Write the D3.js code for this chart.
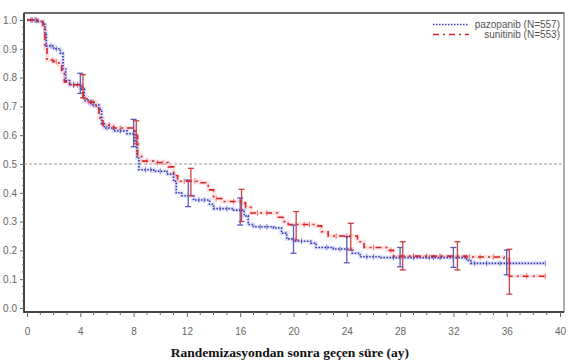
<!DOCTYPE html>
<html><head><meta charset="utf-8">
<script src="https://cdn.jsdelivr.net/npm/d3@7"></script>
<style>body{margin:0;background:#fff}svg{display:block}</style>
</head><body>
<svg id="c" width="571" height="361"></svg>
<script>
// ---- data ----
const xTicks = [0,4,8,12,16,20,24,28,32,36,40];
const yTicks = [0,0.1,0.2,0.3,0.4,0.5,0.6,0.7,0.8,0.9,1.0];
const seriesNames = ["pazopanib (N=557)", "sunitinib (N=553)"];
// step curves: [time (months), survival after that time]
const pazopanib = [[0,1.0],[0.8,0.995],[1.2,0.985],[1.35,0.95],[1.45,0.91],[2.0,0.90],[2.5,0.885],[2.7,0.83],[2.9,0.79],[3.2,0.775],[4.1,0.76],[4.3,0.72],[4.8,0.705],[5.4,0.69],[5.6,0.64],[5.8,0.625],[6.5,0.615],[7.5,0.605],[8.1,0.58],[8.25,0.52],[8.4,0.48],[9.5,0.475],[10.5,0.465],[11.0,0.44],[11.2,0.40],[11.6,0.39],[12.5,0.375],[13.7,0.36],[14.0,0.345],[15.5,0.34],[16.3,0.32],[16.6,0.29],[17.0,0.282],[18.5,0.278],[19.1,0.26],[19.5,0.24],[20.0,0.232],[21.3,0.225],[21.7,0.21],[23.0,0.205],[24.4,0.19],[25.0,0.178],[26.5,0.175],[33.0,0.165],[33.3,0.155],[38.9,0.155]];
const sunitinib = [[0,1.0],[0.8,0.995],[1.2,0.98],[1.35,0.9],[1.5,0.86],[2.0,0.855],[2.4,0.845],[2.6,0.82],[2.8,0.785],[3.2,0.775],[4.0,0.765],[4.2,0.73],[4.5,0.715],[5.2,0.70],[5.4,0.66],[5.7,0.635],[6.5,0.625],[8.1,0.60],[8.3,0.53],[8.6,0.51],[9.5,0.505],[10.6,0.49],[11.0,0.46],[11.3,0.44],[13.0,0.435],[13.6,0.41],[14.0,0.38],[14.6,0.37],[16.1,0.365],[16.4,0.35],[16.8,0.33],[18.8,0.315],[19.2,0.30],[19.6,0.29],[21.6,0.285],[22.1,0.265],[22.6,0.25],[24.8,0.23],[25.3,0.21],[27.0,0.20],[27.5,0.18],[33.0,0.177],[35.8,0.172],[36.2,0.11],[38.9,0.11]];
// censor times
const pazopanibCensor = [0.3,0.6,1.8,2.2,3.5,3.8,5.0,6.0,7.0,8.9,9.3,10.0,12.9,13.3,14.5,15.0,17.5,18.0,20.6,22.5,23.5,25.5,26.0,27.5,29.0,30.2,30.5,31.0,33.6,34.5,35.5,38.9];
const sunitinibCensor = [0.4,0.7,1.9,2.2,3.5,4.6,5.0,6.2,7.0,9.0,9.8,10.2,11.8,12.6,14.2,15.5,17.3,18.0,20.8,21.2,23.2,24.0,26.0,27.3,29.0,30.0,31.0,33.2,34.0,35.0,37.5,38.9];
// 95% CI bars: [time, lower, upper]
const pazopanibCI = [[4.0,0.745,0.815],[8.0,0.56,0.655],[12.1,0.352,0.444],[16.0,0.288,0.382],[20.0,0.19,0.288],[24.0,0.157,0.248],[28.0,0.143,0.21],[32.0,0.141,0.21],[36.0,0.115,0.201]];
const sunitinibCI = [[4.2,0.73,0.81],[8.2,0.57,0.65],[12.3,0.39,0.485],[16.1,0.30,0.412],[20.2,0.236,0.335],[24.3,0.201,0.294],[28.2,0.132,0.23],[32.3,0.132,0.23],[36.2,0.048,0.204]];

// ---- chart ----
const svg = d3.select("#c");
const x = d3.scaleLinear().domain([0,40]).range([27,560]);
const y = d3.scaleLinear().domain([0,1]).range([308,20]);
const L=24,R=564,T=13,B=312;
const gray="#666";

// frame
svg.append("rect").attr("x",L).attr("y",T).attr("width",R-L).attr("height",B-T)
  .attr("fill","none").attr("stroke","#777").attr("stroke-width",1.2);
svg.append("line").attr("x1",L).attr("x2",L).attr("y1",T).attr("y2",B+1).attr("stroke","#444").attr("stroke-width",2);
svg.append("line").attr("x1",L-1).attr("x2",R).attr("y1",B).attr("y2",B).attr("stroke","#444").attr("stroke-width",2);
svg.append("line").attr("x1",L).attr("x2",R).attr("y1",T).attr("y2",T).attr("stroke","#555").attr("stroke-width",1.5);

// axes
const xAxis = d3.axisBottom(x).tickValues(xTicks).tickSize(5).tickPadding(11).tickFormat(d3.format("d"));
const gx = svg.append("g").attr("transform",`translate(0,${B})`).call(xAxis);
gx.select(".domain").remove();
gx.selectAll("line").attr("stroke",gray);
gx.selectAll("text").attr("fill",gray).style("font-family","Liberation Sans, Arial, sans-serif").style("font-size","10px");
const xMinor = d3.range(0,41).filter(d=>d%4!==0);
svg.append("g").selectAll("line").data(xMinor).join("line")
  .attr("x1",d=>x(d)).attr("x2",d=>x(d)).attr("y1",B).attr("y2",B+3).attr("stroke",gray);

const yAxis = d3.axisLeft(y).tickValues(yTicks).tickSize(4).tickPadding(3).tickFormat(d3.format(".1f"));
const gy = svg.append("g").attr("transform",`translate(${L},0)`).call(yAxis);
gy.select(".domain").remove();
gy.selectAll("line").attr("stroke",gray);
gy.selectAll("text").attr("fill",gray).style("font-family","Liberation Sans, Arial, sans-serif").style("font-size","10px");
const yMinor = d3.range(0,1.0001,0.025).filter(d=>Math.abs(d*10-Math.round(d*10))>1e-6);
svg.append("g").selectAll("line").data(yMinor).join("line")
  .attr("x1",L-2).attr("x2",L).attr("y1",d=>y(d)).attr("y2",d=>y(d)).attr("stroke",gray);

// reference line at 0.5
svg.append("line").attr("x1",L).attr("x2",R).attr("y1",y(0.5)).attr("y2",y(0.5))
  .attr("stroke","#999").attr("stroke-width",1).attr("stroke-dasharray","3,2");

const line = d3.line().x(d=>x(d[0])).y(d=>y(d[1])).curve(d3.curveStepAfter);
function stepAt(data,t){let v=data[0][1];for(const d of data){if(d[0]<=t)v=d[1];else break;}return v;}

const cfg = [
  {data:pazopanib,cens:pazopanibCensor,ci:pazopanibCI,col:"#3535b0",halo:"rgba(90,110,230,0.2)",bar:"#5a5ab8",dash:"1.5,1.5"},
  {data:sunitinib,cens:sunitinibCensor,ci:sunitinibCI,col:"#dd2222",halo:"rgba(240,110,110,0.2)",bar:"#cc4040",dash:"6,4,2,4"}
];
cfg.forEach(c=>{
  svg.append("path").attr("d",line(c.data)).attr("fill","none").attr("stroke",c.halo).attr("stroke-width",4);
});
cfg.forEach(c=>{
  svg.append("path").attr("d",line(c.data)).attr("fill","none").attr("stroke",c.col)
    .attr("stroke-width",1.6).attr("stroke-dasharray",c.dash);
  svg.append("g").selectAll("line").data(c.cens).join("line")
    .attr("x1",d=>x(d)).attr("x2",d=>x(d))
    .attr("y1",d=>y(stepAt(c.data,d))-3).attr("y2",d=>y(stepAt(c.data,d))+3)
    .attr("stroke",c.col).attr("stroke-width",0.8).attr("opacity",0.7);
  const g = svg.append("g").attr("stroke",c.bar).attr("stroke-width",1.3);
  c.ci.forEach(d=>{
    g.append("line").attr("x1",x(d[0])).attr("x2",x(d[0])).attr("y1",y(d[1])).attr("y2",y(d[2]));
    g.append("line").attr("x1",x(d[0])-3).attr("x2",x(d[0])+3).attr("y1",y(d[1])).attr("y2",y(d[1]));
    g.append("line").attr("x1",x(d[0])-3).attr("x2",x(d[0])+3).attr("y1",y(d[2])).attr("y2",y(d[2]));
  });
});

// legend
const leg = svg.append("g");
cfg.forEach((c,i)=>{
  const yy = 24.5 + i*10;
  leg.append("line").attr("x1",433).attr("x2",469).attr("y1",yy).attr("y2",yy)
    .attr("stroke",c.col).attr("stroke-width",1.6).attr("stroke-dasharray",c.dash);
  leg.append("text").attr("x",560).attr("y",yy+3.5).attr("text-anchor","end")
    .attr("fill","#555").style("font-family","Liberation Sans, Arial, sans-serif").style("font-size","10px")
    .text(seriesNames[i]);
});

// x title
svg.append("text").attr("x",290).attr("y",357).attr("text-anchor","middle")
  .style("font-family","Liberation Serif, Times New Roman, serif").style("font-weight","bold").style("font-size","13.5px")
  .attr("fill","#111").text("Randemizasyondan sonra geçen süre (ay)");
</script>
</body></html>
